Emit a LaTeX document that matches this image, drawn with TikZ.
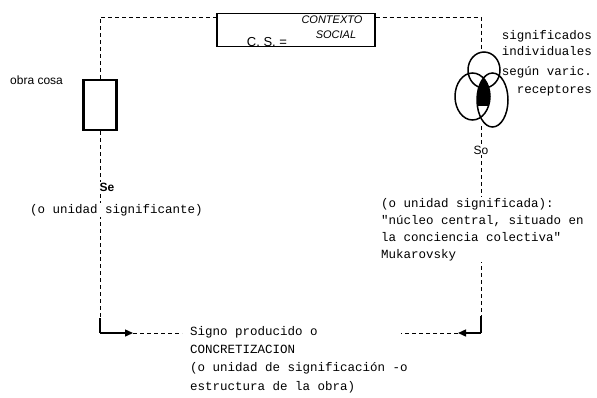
\documentclass[tikz,border=0pt]{standalone}
\usepackage{fontspec}
\setmainfont{Liberation Sans}
\setmonofont{Liberation Mono}
\usetikzlibrary{arrows.meta}
\begin{document}
\begin{tikzpicture}[x=1pt,y=-1pt,
  dline/.style={line width=0.8pt, dash pattern=on 4pt off 3pt},
  sline/.style={line width=1.4pt},
  tw/.style={font=\ttfamily\fontsize{12.5}{17}\selectfont, inner sep=1pt},
  hand/.style={font=\fontsize{12}{14}\selectfont, inner sep=1pt},
  venn/.style={line width=1.5pt},
  tip/.style={-{Triangle[length=8pt,width=7pt]}}]
\useasboundingbox (0,0) rectangle (597,397);
% left object
\node[draw, line width=2.2pt, minimum width=33pt, minimum height=50pt, inner sep=0pt] (obra) at (100,105) {};
\node[hand, anchor=west] (obralbl) at (9,80) {obra cosa};
% contexto social box
\node[draw, line width=1.1pt, minimum width=158pt, minimum height=33pt, inner sep=0pt] (cs) at (296,30) {};
\node[hand, font=\fontsize{13}{15}\selectfont] (csl) at (267,42) {C. S. =};
\node[hand, font=\fontsize{11}{13}\selectfont\itshape] (ctx) at (332,20) {CONTEXTO};
\node[hand, font=\fontsize{11}{13}\selectfont\itshape] (soc) at (336,35) {SOCIAL};
% venn ellipses
\coordinate (ct) at (484,70);
\coordinate (cl) at (472.5,96.5);
\coordinate (cr) at (492.5,100);
\begin{scope}
  \clip (0,0) rectangle (597,105);
  \clip (cl) ellipse [x radius=17.5pt, y radius=23.5pt];
  \fill[black] (cr) ellipse [x radius=15.5pt, y radius=27pt];
\end{scope}
\draw[venn] (ct) ellipse [x radius=16pt, y radius=18pt];
\draw[venn] (cl) ellipse [x radius=17.5pt, y radius=23.5pt];
\draw[venn] (cr) ellipse [x radius=15.5pt, y radius=27pt];
\coordinate (venntop) at (481,52);
\coordinate (vennbot) at (481,126);
\node[tw, anchor=east] (s1) at (593,36) {significados};
\node[tw, anchor=east] (s2) at (593,51) {individuales};
\node[tw, anchor=east] (s3) at (593,72) {según varic.};
\node[tw, anchor=east] (s4) at (593,91) {receptores};
% top dashed connectors
\coordinate (tl) at (100,17);
\coordinate (tr) at (481,17);
\draw[dline] (obra.north) -- (tl) -- (tl -| cs.west);
\draw[dline] (tr -| cs.east) -- (tr) -- (venntop);
% left vertical
\coordinate (lb) at (100,318);
\coordinate (lc) at (100,333);
\coordinate (la) at (133,333);
\coordinate (ld) at (182,333);
\draw[dline] (obra.south) -- (lb);
\draw[sline] (lb) -- (lc);
\draw[sline, tip] (lc) -- (la);
\draw[dline] (la) -- (ld);
% right vertical
\coordinate (rb) at (481,316);
\coordinate (rc) at (481,333);
\coordinate (ra) at (458,333);
\coordinate (rd) at (401,333);
\draw[dline] (vennbot) -- (rb);
\draw[sline] (rb) -- (rc);
\draw[sline, tip] (rc) -- (ra);
\draw[dline] (ra) -- (rd);
% labels
\node[font=\bfseries\fontsize{12}{14}\selectfont, fill=white, inner sep=1pt] (se) at (107,187) {Se};
\node[tw, fill=white, anchor=west] (sig1) at (29,210) {(o unidad significante)};
\node[font=\fontsize{12}{14}\selectfont, fill=white, inner sep=1pt] (so) at (481,150) {So};
\node[tw, fill=white, anchor=north west, align=left] (sig2) at (380,197)
  {(o unidad significada):\\"núcleo central, situado en\\la conciencia colectiva"\\Mukarovsky};
\node[tw, anchor=north west, align=left, font=\ttfamily\fontsize{12.5}{18.3}\selectfont] (signo) at (189,325)
  {Signo producido o\\CONCRETIZACION\\(o unidad de significación -o\\estructura de la obra)};
\end{tikzpicture}
\end{document}
